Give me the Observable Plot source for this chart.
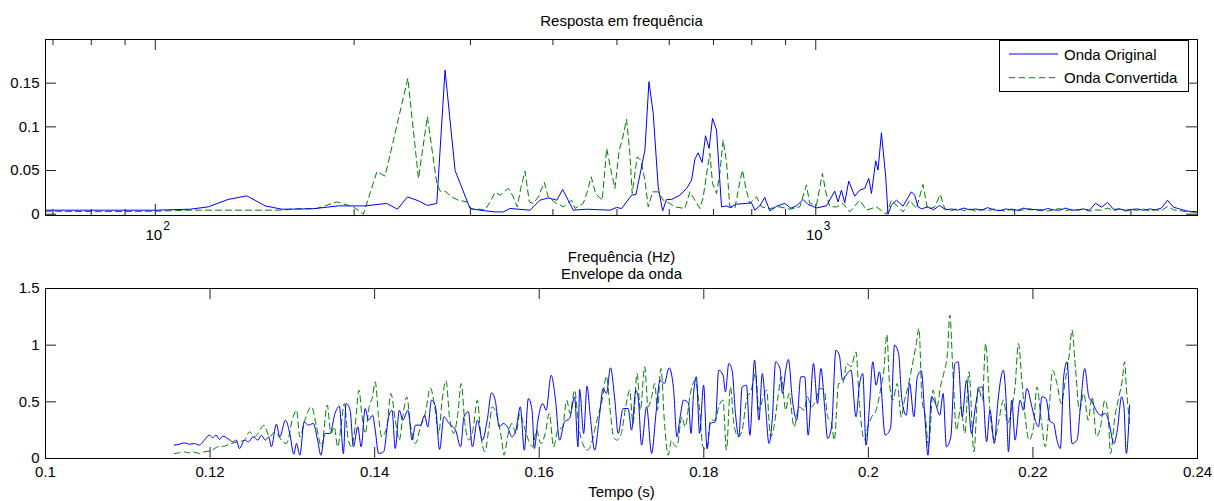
<!DOCTYPE html>
<html>
<head>
<meta charset="utf-8">
<script src="https://cdn.jsdelivr.net/npm/d3@7"></script>
<script src="https://cdn.jsdelivr.net/npm/@observablehq/plot@0.6"></script>
<style>
  html, body { margin: 0; padding: 0; background: #fff; }
  #wrap { position: relative; width: 1214px; height: 501px; background: #fff; overflow: hidden;
          font-family: "Liberation Sans", Arial, Helvetica, sans-serif; }
  #wrap > svg { position: absolute; left: 0; top: 0; }
</style>
</head>
<body>
<div id="wrap"></div>
<script>
// ---------------- texts ----------------
const topTitle = "Resposta em frequência";
const topXLabel = "Frequência (Hz)";
const botTitle = "Envelope da onda";
const botXLabel = "Tempo (s)";
const seriesNames = ["Onda Original", "Onda Convertida"];

// ---------------- ticks ----------------
const topXMajor = [100, 1000];
const topXMajorBase = ["10", "10"];
const topXMajorExp = ["2", "3"];
const topXMinor = [70, 80, 90, 200, 300, 400, 500, 600, 700, 800, 900, 2000, 3000];
const topYTicks = [0, 0.05, 0.1, 0.15];
const botXTicks = [0.1, 0.12, 0.14, 0.16, 0.18, 0.2, 0.22, 0.24];
const botYTicks = [0, 0.5, 1, 1.5];

// ---------------- frequency response (Hz, amplitude) ----------------
const tailFreq = [1446.6, 1477, 1508.3, 1540.2, 1572.8, 1605.7, 1639.7, 1674.4, 1710, 1746.1, 1782.7, 1820.5, 1859, 1898.4, 1938.1, 1979.2, 2021.1, 2063.9, 2107.6, 2151.7, 2197.3, 2243.8, 2291.3, 2339.3, 2388.8, 2439.4, 2491, 2543.2, 2597, 2652, 2708.2, 2765.5, 2823.5, 2883.3, 2944.4, 3006.7, 3069.7, 3134.7, 3201, 3268.8, 3337.3, 3408, 3480.2, 3553.9, 3629.1, 3705.2, 3783.6];

const freqOriginal = [68.2, 100, 113, 120.3, 128.9, 137.6, 146.7, 155.5, 172.6, 189.2, 207.9, 224.1, 232.6, 240.9, 250.3, 258.2, 266.8, 274.6, 284.4, 299.6, 310.2, 326.9, 336.5, 344.4, 369.3, 382.4, 393.6, 405.3, 413.9, 429.4, 449.9, 488, 499.5, 508.3, 526.3, 534.3, 551.2, 559, 567.4, 577.3, 586.3, 594.5, 605, 622.8, 637.5, 648.6, 656.1, 663.6, 672.9, 680.9, 689.5, 697.7, 707.5, 719.9, 732.6, 741.1, 758.6, 785.6, 799.3, 808.5, 822.7, 837.1, 851.9, 873, 897.6, 916.6, 934.9, 956.7, 973.4, 1002.5, 1038, 1068.3, 1080.7, 1093.7, 1106.3, 1121.7, 1145.5, 1165.7, 1186, 1202.8, 1214.2, 1232.5, 1242.5, 1257.2, 1276.1, 1286.4, 1301.6, 1324.6, 1355.4, 1395.6, 1411.7, 1428].concat(tailFreq);
const ampOriginal = [0.0046, 0.0046, 0.0057, 0.0084, 0.0169, 0.021, 0.0095, 0.0057, 0.0061, 0.0095, 0.0095, 0.0123, 0.0057, 0.0198, 0.0153, 0.01, 0.0123, 0.165, 0.05, 0.0065, 0.0046, 0.0026, 0.0026, 0.0065, 0.0046, 0.016, 0.0187, 0.016, 0.0283, 0.0046, 0.0057, 0.0046, 0.0077, 0.0065, 0.0218, 0.0226, 0.0734, 0.1517, 0.1155, 0.0313, 0.0038, 0.0169, 0.0169, 0.0218, 0.0295, 0.039, 0.063, 0.0703, 0.0593, 0.0898, 0.0753, 0.1097, 0.0963, 0.0084, 0.0095, 0.0077, 0.0115, 0.0123, 0.013, 0.0046, 0.0095, 0.0192, 0.0038, 0.0092, 0.0123, 0.0069, 0.0095, 0.0169, 0.0111, 0.0072, 0.0095, 0.0264, 0.0141, 0.0275, 0.013, 0.0378, 0.0206, 0.0275, 0.0295, 0.041, 0.0237, 0.0611, 0.0505, 0.0932, 0.0428, 0, 0.0103, 0.016, 0.0092, 0.0256, 0.0218, 0.0084,
  0.006, 0.0085, 0.005, 0.010, 0.005, 0.006, 0.0045, 0.007, 0.005, 0.006, 0.0045, 0.0075, 0.005, 0.004, 0.006, 0.005, 0.0045, 0.007, 0.005, 0.0055, 0.004, 0.0065, 0.005, 0.0045, 0.007, 0.0045, 0.005, 0.006, 0.0045, 0.0125, 0.008, 0.0135, 0.0055, 0.006, 0.0045, 0.0055, 0.006, 0.0045, 0.006, 0.005, 0.007, 0.016, 0.008, 0.006, 0.004, 0.003, 0.003];

const freqConvertida = [68.2, 82.6, 100, 113, 154.6, 167.5, 175.7, 188.3, 199.5, 206.6, 216.5, 222.8, 241.2, 250.3, 258.2, 266.8, 269.9, 274.6, 281.1, 287.7, 296.2, 301.4, 310.2, 315.6, 321.2, 326.9, 332.6, 342.4, 348.3, 353.2, 357.5, 362.9, 368.4, 373.5, 380.1, 388.1, 393.6, 401.5, 414.7, 427, 432, 444.6, 450.8, 457.1, 464.1, 475, 482.4, 490.8, 496.5, 504, 509.3, 517.1, 523.1, 527.3, 536.6, 543.5, 551.2, 557.6, 566.2, 577.3, 587.5, 601.3, 611.9, 633.6, 644.8, 656.1, 667.8, 675.5, 685, 691.4, 697.7, 707.5, 715.7, 724, 732.6, 741.1, 754.2, 767.4, 774.7, 783.6, 794.7, 813.3, 827.5, 851.9, 882, 913.4, 945.8, 968, 979.3, 1002.5, 1023.5, 1035.4, 1050, 1074.8, 1099.7, 1125.6, 1165.7, 1193.2, 1235.3, 1279.4, 1301.6, 1340, 1355.4, 1387.4, 1420, 1453, 1477, 1513.6, 1543.8, 1567.4,
  1605.7, 1639.7, 1674.4, 1710, 1746.1, 1782.7, 1820.5, 1859, 1898.4, 1938.1, 1979.2, 2021.1, 2063.9, 2107.6, 2151.7, 2197.3, 2243.8, 2291.3, 2339.3, 2388.8, 2439.4, 2491, 2543.2, 2597, 2652, 2708.2, 2765.5, 2823.5, 2883.3, 2944.4, 3006.7, 3069.7, 3134.7, 3201, 3268.8, 3337.3, 3408, 3480.2, 3553.9, 3629.1, 3705.2, 3783.6];
const ampConvertida = [0.0034, 0.0029, 0.0034, 0.0046, 0.0046, 0.0065, 0.0065, 0.0141, 0.0084, 0, 0.0485, 0.0436, 0.1556, 0.0409, 0.1116, 0.0355, 0.0264, 0.0264, 0.0198, 0.016, 0.0141, 0.0057, 0.0057, 0.0046, 0.0141, 0.0249, 0.0218, 0.0295, 0.0198, 0.0084, 0.0295, 0.0493, 0.0141, 0.0123, 0.0198, 0.0364, 0.0198, 0.0141, 0.0084, 0.016, 0.0065, 0.0123, 0.0256, 0.0428, 0.0237, 0.016, 0.0753, 0.0467, 0.0295, 0.0734, 0.0849, 0.1086, 0.0696, 0.0237, 0.0657, 0.0619, 0.039, 0.0084, 0.0256, 0.0256, 0.016, 0.0123, 0.0084, 0.0065, 0.0256, 0.016, 0.0065, 0.0198, 0.0505, 0.0696, 0.0352, 0.0237, 0.0467, 0.0849, 0.06, 0.0084, 0.0065, 0.037, 0.0505, 0.0295, 0.0123, 0.0198, 0.0084, 0.0065, 0.0084, 0.0057, 0.0084, 0.0333, 0.0123, 0.0103, 0.0467, 0.0256, 0.0084, 0.0084, 0.0123, 0.0026, 0.016, 0.0046, 0.0084, 0, 0.016, 0.0065, 0.0026, 0.016, 0.0065, 0.034, 0.0057, 0.008, 0.0226, 0.0063,
  0.004, 0.0065, 0.004, 0.006, 0.0035, 0.0055, 0.004, 0.006, 0.0045, 0.0035, 0.006, 0.004, 0.005, 0.0065, 0.004, 0.0055, 0.0035, 0.005, 0.0065, 0.004, 0.0055, 0.0045, 0.006, 0.0035, 0.005, 0.0045, 0.007, 0.004, 0.006, 0.0035, 0.005, 0.0045, 0.006, 0.0035, 0.005, 0.004, 0.009, 0.005, 0.004, 0.003, 0.0025, 0.002];

// ---------------- envelope (s, amplitude) ----------------
const timeOriginal = [0.11564, 0.11625, 0.11686, 0.11747, 0.11808, 0.11869, 0.1193, 0.11991, 0.12032, 0.12073, 0.12114, 0.12154, 0.12215, 0.12276, 0.12317, 0.12358, 0.12419, 0.12468, 0.12521, 0.12582, 0.12623, 0.12671, 0.12712, 0.12745, 0.12806, 0.12847, 0.12916, 0.12969, 0.13018, 0.1305, 0.13091, 0.13144, 0.13193, 0.13254, 0.13307, 0.13347, 0.13396, 0.13457, 0.13518, 0.13571, 0.1362, 0.13653, 0.13702, 0.13742, 0.13795, 0.13836, 0.13885, 0.13926, 0.13974, 0.14007, 0.14048, 0.14109, 0.1417, 0.14211, 0.14251, 0.143, 0.14341, 0.14406, 0.14455, 0.14496, 0.14557, 0.14606, 0.14646, 0.14691, 0.1474, 0.14789, 0.14842, 0.14903, 0.14984, 0.15045, 0.15086, 0.15139, 0.15188, 0.15249, 0.1531, 0.15371, 0.1542, 0.15465, 0.15514, 0.15563, 0.15615, 0.15668, 0.15717, 0.1577, 0.15819, 0.15868, 0.15913, 0.15941, 0.15982, 0.16043, 0.16084, 0.16145, 0.16198, 0.16247, 0.16308, 0.16369, 0.1643, 0.16471, 0.16491, 0.1654, 0.16581, 0.16621, 0.16674, 0.16735, 0.16776, 0.16817, 0.16866, 0.16919, 0.16959, 0.1702, 0.17081, 0.17122, 0.17175, 0.17204, 0.17244, 0.17305, 0.17366, 0.17419, 0.17468, 0.17521, 0.17578,
  0.17632, 0.17673, 0.17713, 0.17754, 0.17815, 0.17844, 0.17876, 0.17909, 0.17949, 0.17998, 0.18039, 0.1808, 0.18141, 0.18181, 0.18234, 0.18263, 0.18304, 0.18344, 0.18385, 0.18426, 0.18466, 0.18519, 0.1856, 0.18617, 0.1867, 0.18711, 0.18751, 0.18792, 0.18833, 0.18873, 0.18926, 0.18955, 0.18995, 0.19028, 0.19077, 0.1913, 0.19179, 0.19227, 0.19268, 0.19333, 0.19382, 0.19423, 0.19472, 0.19504, 0.19553, 0.19606, 0.19647, 0.19687, 0.19728, 0.19789, 0.1985, 0.19891, 0.19932, 0.19972, 0.20013, 0.20054, 0.20094, 0.20135, 0.20204, 0.20269, 0.20318, 0.20367, 0.20408, 0.20461, 0.20501, 0.20554, 0.20595, 0.20644, 0.20685, 0.20725, 0.20766, 0.20815, 0.20868, 0.20908, 0.20949, 0.21002, 0.21051, 0.21092, 0.2114, 0.21193, 0.21254, 0.21295, 0.21344, 0.21385, 0.21437, 0.21478, 0.21531, 0.21572, 0.21641, 0.21682, 0.21702, 0.21743, 0.21783, 0.21844, 0.21885, 0.21926, 0.21987, 0.22028, 0.22068, 0.22109, 0.22158, 0.22211, 0.22251, 0.22292, 0.22333, 0.22374, 0.22414, 0.22475, 0.22536, 0.22577, 0.2263, 0.22679, 0.2272, 0.22768, 0.22821, 0.22882, 0.22923, 0.22984, 0.23025, 0.23078, 0.23106, 0.23135, 0.23175];
const envOriginal = [0.118, 0.126, 0.138, 0.126, 0.132, 0.118, 0.162, 0.206, 0.185, 0.206, 0.168, 0.197, 0.176, 0.147, 0.162, 0.088, 0.162, 0.147, 0.191, 0.162, 0.206, 0.162, 0.191, 0.103, 0.303, 0.191, 0.338, 0.221, 0.038, 0.132, 0.029, 0.324, 0.294, 0.309, 0.162, 0.029, 0.221, 0.221, 0.397, 0.462, 0.044, 0.485, 0.426, 0.103, 0.279, 0.103, 0.441, 0.338, 0.382, 0.25, 0.044, 0.059, 0.368, 0.426, 0.088, 0.426, 0.338, 0.426, 0.162, 0.294, 0.294, 0.382, 0.279, 0.515, 0.456, 0.079, 0.368, 0.309, 0.25, 0.103, 0.368, 0.412, 0.103, 0.338, 0.162, 0.353, 0.579, 0.515, 0.279, 0.309, 0.279, 0.191, 0.25, 0.456, 0.074, 0.529, 0.426, 0.088, 0.324, 0.485, 0.426, 0.735, 0.515, 0.162, 0.324, 0.353, 0.544, 0.103, 0.609, 0.221, 0.638, 0.368, 0.074, 0.397, 0.618, 0.574, 0.8, 0.515, 0.221, 0.441, 0.441, 0.25, 0.603, 0.529, 0.118, 0.456, 0.044, 0.397, 0.691, 0.662, 0.8,
  0.618, 0.191, 0.368, 0.515, 0.485, 0.221, 0.574, 0.721, 0.221, 0.647, 0.088, 0.309, 0.324, 0.779, 0.735, 0.588, 0.838, 0.779, 0.397, 0.191, 0.632, 0.647, 0.206, 0.868, 0.338, 0.75, 0.456, 0.132, 0.353, 0.853, 0.794, 0.574, 0.779, 0.874, 0.515, 0.338, 0.721, 0.721, 0.206, 0.838, 0.485, 0.794, 0.426, 0.176, 0.279, 0.956, 0.912, 0.691, 0.735, 0.779, 0.368, 0.647, 0.75, 0.118, 0.456, 0.853, 0.647, 0.765, 0.206, 0.265, 1.0, 0.926, 0.515, 0.382, 0.662, 0.368, 0.721, 0.774, 0.382, 0.029, 0.544, 0.485, 0.382, 0.574, 0.103, 0.191, 0.838, 0.853, 0.368, 0.691, 0.221, 0.426, 0.618, 0.632, 0.147, 0.426, 0.132, 0.485, 0.779, 0.397, 0.059, 0.515, 0.162, 0.515, 0.426, 0.618, 0.456, 0.338, 0.279, 0.544, 0.529, 0.324, 0.309, 0.162, 0.088, 0.721, 0.853, 0.132, 0.162, 0.456, 0.794, 0.544, 0.5, 0.426, 0.382, 0.397, 0.324, 0.132, 0.25, 0.544, 0.456, 0.044, 0.471];

const timeConvertida = [0.11564, 0.11625, 0.11686, 0.11747, 0.11808, 0.11869, 0.1193, 0.12012, 0.12093, 0.12174, 0.12256, 0.12337, 0.12419, 0.1248, 0.12541, 0.12582, 0.12655, 0.12724, 0.12785, 0.12826, 0.12866, 0.12927, 0.13009, 0.1305, 0.13091, 0.13151, 0.13233, 0.13294, 0.13355, 0.13424, 0.13469, 0.13509, 0.1355, 0.13591, 0.13631, 0.1368, 0.13721, 0.13762, 0.1381, 0.13843, 0.13885, 0.13933, 0.13974, 0.14007, 0.14048, 0.14087, 0.14148, 0.14197, 0.14251, 0.143, 0.14341, 0.14392, 0.14433, 0.14496, 0.14557, 0.14616, 0.14677, 0.1473, 0.14779, 0.1482, 0.14869, 0.14909, 0.14962, 0.15011, 0.15052, 0.15097, 0.15145, 0.15194, 0.15249, 0.15288, 0.15341, 0.1539, 0.1543, 0.15491, 0.15544, 0.15573, 0.15615, 0.15668, 0.15717, 0.15764, 0.15819, 0.1587, 0.15919, 0.15968, 0.1602, 0.16073, 0.16122, 0.16175, 0.16224, 0.16285, 0.16334, 0.16375, 0.1643, 0.1648, 0.16529, 0.16581, 0.16621, 0.16674, 0.16712, 0.16765, 0.16817, 0.16866, 0.16904, 0.16944, 0.16997, 0.17058, 0.17099, 0.1714, 0.17189, 0.17229, 0.17282, 0.17323, 0.17366, 0.17404, 0.17437, 0.17478, 0.17526, 0.17567, 0.17608,
  0.17632, 0.17673, 0.17734, 0.17774, 0.17836, 0.17897, 0.17949, 0.1799, 0.18039, 0.1808, 0.18141, 0.18181, 0.18234, 0.18275, 0.18324, 0.18365, 0.18418, 0.18466, 0.18519, 0.18576, 0.18629, 0.1867, 0.18711, 0.18763, 0.18812, 0.18853, 0.18902, 0.18943, 0.18995, 0.19036, 0.19097, 0.19158, 0.19219, 0.1926, 0.19309, 0.19362, 0.19411, 0.19464, 0.19504, 0.19553, 0.19586, 0.19639, 0.19687, 0.1974, 0.19789, 0.1985, 0.19891, 0.19952, 0.19993, 0.20041, 0.20094, 0.20147, 0.20188, 0.20225, 0.20257, 0.20298, 0.20351, 0.204, 0.2044, 0.20481, 0.2053, 0.20583, 0.20615, 0.20652, 0.20693, 0.20733, 0.20786, 0.20835, 0.20876, 0.20921, 0.20961, 0.2099, 0.2103, 0.21071, 0.21124, 0.21173, 0.21222, 0.21283, 0.21336, 0.21385, 0.21425, 0.21478, 0.21531, 0.2158, 0.21641, 0.21694, 0.21743, 0.21783, 0.21824, 0.21865, 0.21906, 0.21954, 0.22007, 0.22048, 0.22101, 0.2215, 0.22199, 0.22239, 0.22292, 0.22345, 0.22394, 0.22443, 0.22475, 0.22516, 0.22565, 0.22618, 0.22671, 0.2272, 0.22772, 0.22821, 0.22874, 0.22915, 0.22943, 0.22996, 0.23045, 0.23086, 0.23114, 0.23135, 0.23175];
const envConvertida = [0.044, 0.05, 0.059, 0.05, 0.056, 0.044, 0.059, 0.068, 0.103, 0.109, 0.132, 0.147, 0.162, 0.235, 0.191, 0.221, 0.294, 0.191, 0.235, 0.206, 0.162, 0.132, 0.368, 0.426, 0.191, 0.338, 0.456, 0.279, 0.103, 0.471, 0.221, 0.279, 0.103, 0.279, 0.485, 0.162, 0.103, 0.279, 0.603, 0.397, 0.221, 0.456, 0.544, 0.676, 0.368, 0.191, 0.279, 0.574, 0.338, 0.162, 0.368, 0.544, 0.309, 0.132, 0.279, 0.397, 0.624, 0.456, 0.221, 0.515, 0.685, 0.368, 0.221, 0.397, 0.662, 0.309, 0.162, 0.25, 0.515, 0.221, 0.059, 0.279, 0.456, 0.368, 0.162, 0.029, 0.191, 0.309, 0.221, 0.397, 0.279, 0.162, 0.103, 0.25, 0.132, 0.221, 0.397, 0.103, 0.25, 0.279, 0.515, 0.397, 0.603, 0.279, 0.132, 0.074, 0.103, 0.25, 0.368, 0.515, 0.726, 0.397, 0.191, 0.162, 0.221, 0.485, 0.603, 0.309, 0.75, 0.426, 0.809, 0.456, 0.544, 0.662, 0.426, 0.794, 0.279, 0.029, 0.162,
  0.132, 0.103, 0.368, 0.279, 0.574, 0.691, 0.426, 0.103, 0.074, 0.338, 0.338, 0.456, 0.515, 0.074, 0.632, 0.309, 0.191, 0.25, 0.515, 0.603, 0.75, 0.426, 0.515, 0.603, 0.191, 0.279, 0.544, 0.721, 0.426, 0.574, 0.279, 0.456, 0.426, 0.544, 0.456, 0.515, 0.618, 0.603, 0.368, 0.309, 0.162, 0.662, 0.662, 0.838, 0.809, 0.941, 0.485, 0.162, 0.279, 0.368, 0.426, 0.603, 0.779, 1.094, 0.662, 0.515, 0.662, 0.368, 0.515, 0.632, 0.809, 1.015, 1.147, 0.515, 0.368, 0.103, 0.603, 0.456, 0.632, 0.765, 0.926, 1.265, 0.721, 0.25, 0.456, 0.221, 0.765, 0.059, 0.632, 0.515, 1.015, 0.426, 0.162, 0.309, 0.515, 0.309, 0.456, 0.632, 1.015, 0.691, 0.368, 0.162, 0.279, 0.632, 0.338, 0.103, 0.456, 0.779, 0.662, 0.485, 0.691, 0.926, 1.132, 0.809, 0.426, 0.574, 0.338, 0.544, 0.191, 0.279, 0.515, 0.368, 0.044, 0.368, 0.544, 0.691, 0.853, 0.632, 0.309];

// ---------------- styling ----------------
const BLUE = "#0000ff", GREEN = "#008000";
const DASH = "6,4";
const FONT = '"Liberation Sans", Arial, Helvetica, sans-serif';
const W = 1214, H = 501, ML = 45, MR = 17;
const TOP = {t: 39, b: 215}, BOT = {t: 288, b: 458};
const plotW = W - ML - MR;
const topH = TOP.b - TOP.t, botH = BOT.b - BOT.t;
const TL = 11, TLm = 6, TICK = "#222";

const zipFV = (fs, vs) => fs.map((f, i) => ({f, v: vs[i]}));
const origFR = zipFV(freqOriginal, ampOriginal);
const convFR = zipFV(freqConvertida, ampConvertida);
const origEnv = zipFV(timeOriginal, envOriginal);
const convEnv = zipFV(timeConvertida, envConvertida);

const baseStyle = {fontFamily: FONT, fontSize: "15px", color: "black", background: "transparent", overflow: "visible"};

function boxTicksX(values, h, len) {
  return [
    Plot.tickX(values, {x: d => d, insetTop: h - len, stroke: TICK, strokeWidth: 1}),
    Plot.tickX(values, {x: d => d, insetBottom: h - len, stroke: TICK, strokeWidth: 1})
  ];
}
function boxTicksY(values, len) {
  return [
    Plot.tickY(values, {y: d => d, insetRight: plotW - len, stroke: TICK, strokeWidth: 1}),
    Plot.tickY(values, {y: d => d, insetLeft: plotW - len, stroke: TICK, strokeWidth: 1})
  ];
}

const topPlot = Plot.plot({
  width: W, height: H,
  marginLeft: ML, marginRight: MR, marginTop: TOP.t, marginBottom: H - TOP.b,
  style: baseStyle,
  x: {type: "log", domain: [68.2, 3784]},
  y: {domain: [-0.0015, 0.2]},
  marks: [
    Plot.line(convFR, {x: "f", y: "v", stroke: GREEN, strokeWidth: 1, strokeDasharray: DASH}),
    Plot.line(origFR, {x: "f", y: "v", stroke: BLUE, strokeWidth: 1}),
    ...boxTicksX(topXMajor, topH, TL),
    ...boxTicksX(topXMinor, topH, TLm),
    ...boxTicksY(topYTicks, TL),
    Plot.frame({stroke: "black", strokeWidth: 1}),
    Plot.axisX(topXMajor, {anchor: "bottom", tickSize: 0, tickPadding: 14, fontSize: 15, dx: -1.5,
      tickFormat: d => topXMajorBase[topXMajor.indexOf(d)], label: null}),
    Plot.text(topXMajor, {x: d => d, frameAnchor: "bottom", lineAnchor: "bottom",
      text: d => topXMajorExp[topXMajor.indexOf(d)], textAnchor: "start", dx: 8, dy: 14.3, fontSize: 12}),
    Plot.axisY(topYTicks, {anchor: "left", tickSize: 0, tickPadding: 6, fontSize: 15,
      tickFormat: d => String(d), label: null}),
    Plot.text([0], {frameAnchor: "top", lineAnchor: "top", text: () => topTitle, dy: -24, fontSize: 15}),
    Plot.text([0], {frameAnchor: "bottom", lineAnchor: "bottom", text: () => topXLabel, dy: 46, fontSize: 15})
  ]
});

const botPlot = Plot.plot({
  width: W, height: H,
  marginLeft: ML, marginRight: MR, marginTop: BOT.t, marginBottom: H - BOT.b,
  style: baseStyle,
  x: {domain: [0.1, 0.24]},
  y: {domain: [0, 1.5]},
  marks: [
    Plot.line(convEnv, {x: "f", y: "v", stroke: GREEN, strokeWidth: 1, strokeDasharray: DASH, curve: "monotone-x"}),
    Plot.line(origEnv, {x: "f", y: "v", stroke: BLUE, strokeWidth: 1, curve: "monotone-x"}),
    ...boxTicksX(botXTicks, botH, TL),
    ...boxTicksY(botYTicks, TL),
    Plot.frame({stroke: "black", strokeWidth: 1}),
    Plot.axisX(botXTicks, {anchor: "bottom", tickSize: 0, tickPadding: 8, fontSize: 15,
      tickFormat: d => String(d), label: null}),
    Plot.axisY(botYTicks, {anchor: "left", tickSize: 0, tickPadding: 6, fontSize: 15,
      tickFormat: d => String(d), label: null}),
    Plot.text([0], {frameAnchor: "top", lineAnchor: "top", text: () => botTitle, dy: -20.5, fontSize: 15}),
    Plot.text([0], {frameAnchor: "bottom", lineAnchor: "bottom", text: () => botXLabel, dy: 38.5, fontSize: 15})
  ]
});

const wrap = document.getElementById("wrap");
wrap.appendChild(topPlot);
wrap.appendChild(botPlot);

// ---------------- legend ----------------
const leg = d3.create("svg")
  .attr("width", 190).attr("height", 53)
  .style("position", "absolute").style("left", "999px").style("top", "40px")
  .style("font-family", FONT).style("font-size", "15px");
leg.append("rect").attr("x", 0.5).attr("y", 0.5).attr("width", 189).attr("height", 51)
  .attr("fill", "white").attr("stroke", "black");
const legRows = [
  {name: seriesNames[0], color: BLUE, dash: null, y: 14},
  {name: seriesNames[1], color: GREEN, dash: DASH, y: 37.7}
];
legRows.forEach(r => {
  leg.append("line").attr("x1", 10).attr("x2", 59).attr("y1", r.y).attr("y2", r.y)
    .attr("stroke", r.color).attr("stroke-width", 1).attr("stroke-dasharray", r.dash);
  leg.append("text").attr("x", 65).attr("y", r.y + 5.5).attr("fill", "black").text(r.name);
});
wrap.appendChild(leg.node());
</script>
</body>
</html>
